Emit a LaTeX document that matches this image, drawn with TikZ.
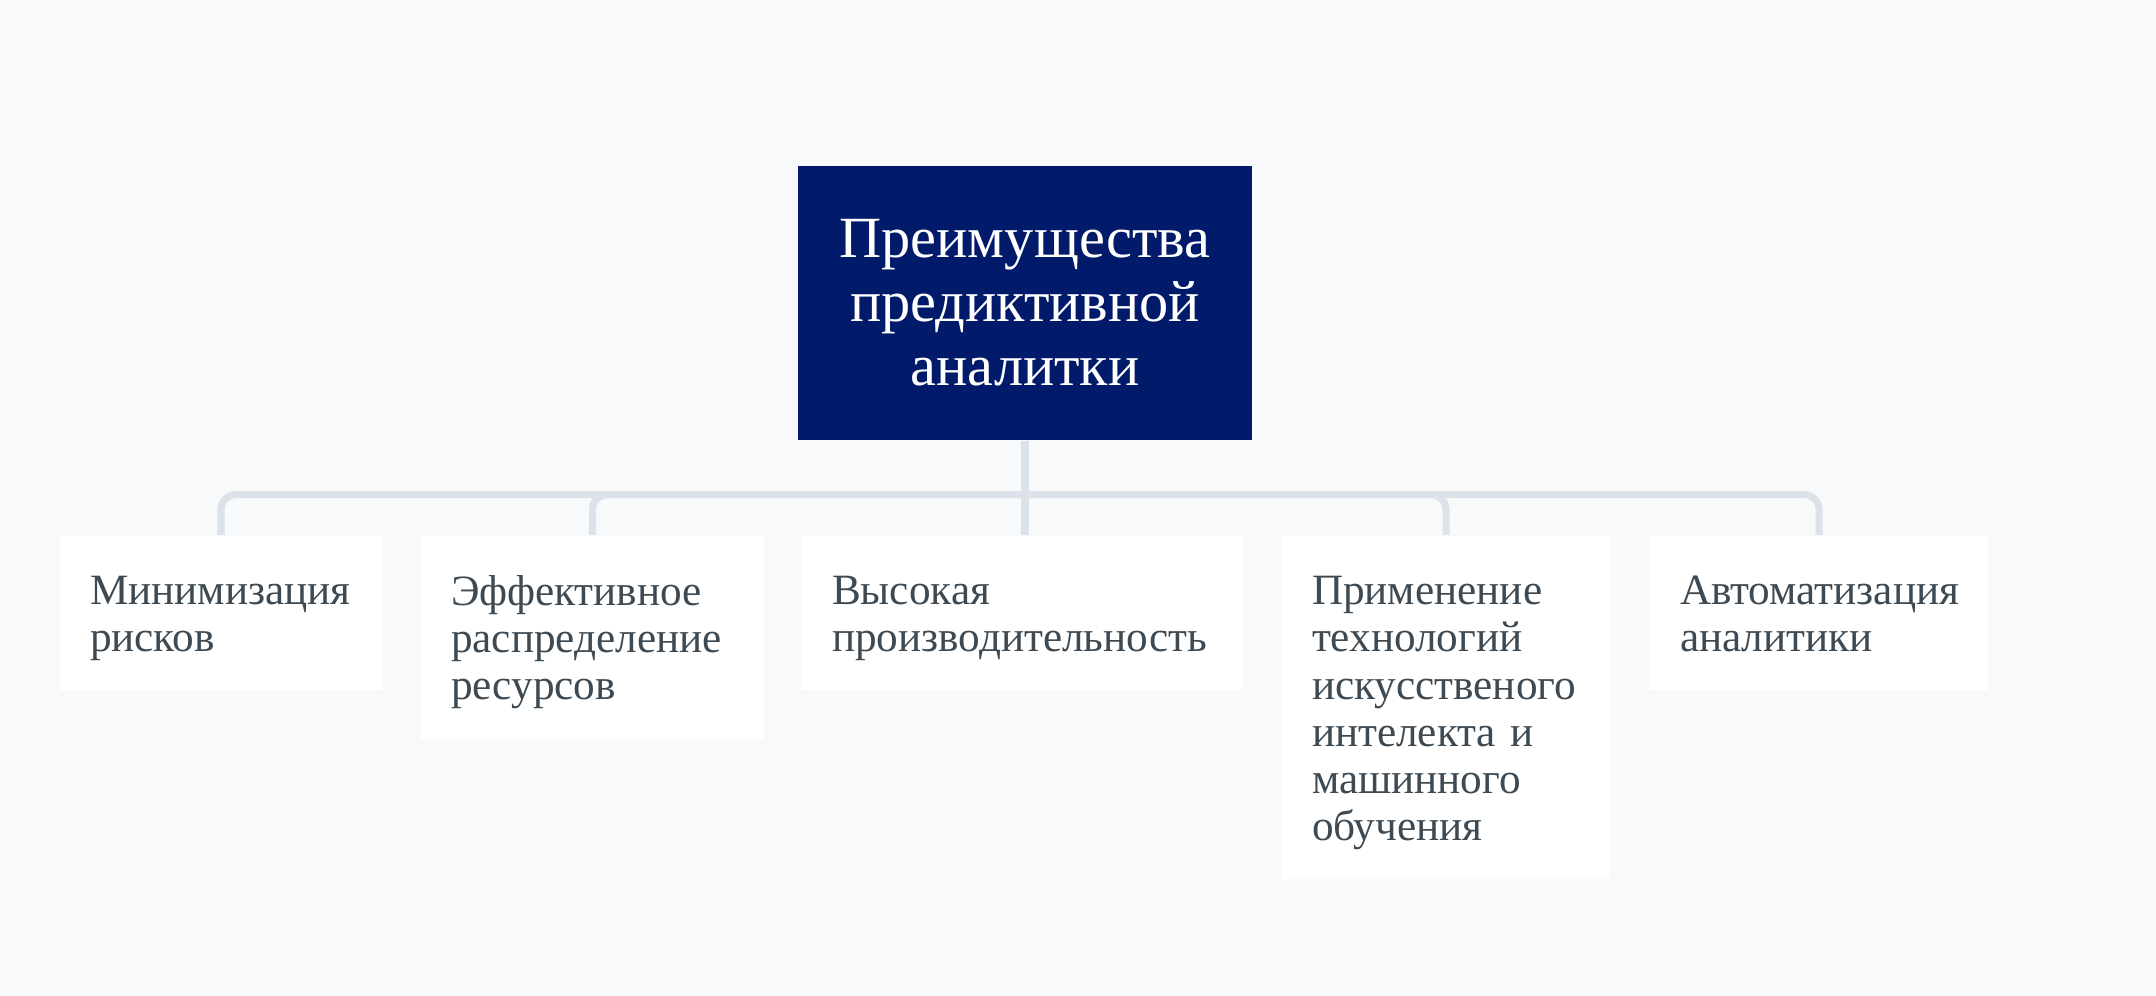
\documentclass[tikz,border=0pt]{standalone}
\usepackage{fontspec}
\setmainfont{Liberation Serif}
\usetikzlibrary{positioning}
\definecolor{pagebg}{HTML}{F8F9FB}
\definecolor{navy}{HTML}{011A6A}
\definecolor{linkgray}{HTML}{DCE2E9}
\definecolor{slate}{HTML}{3E4A53}
\hyphenpenalty=10000
\exhyphenpenalty=10000
\tikzset{
  root/.style={fill=navy,text=white,minimum width=4.54cm,minimum height=2.74cm,align=center,font=\fontsize{16.6}{18.2}\selectfont},
  leaf/.style={fill=white,text=slate,anchor=north,inner xsep=0.3cm,align=left,font=\fontsize{12.3}{13.4}\selectfont,
    text height=0.45cm,execute at begin node=\strut,execute at end node=\strut},
  link/.style={draw=linkgray,line width=2pt,rounded corners=0.15cm}
}

\begin{document}
\begin{tikzpicture}
\fill[pagebg] (0,0) rectangle (21.56,9.96);
\node[root] (root) at (10.25,6.93) {Преимущества\\предиктивной\\аналитки};
\node[leaf,text width=2.62cm,minimum height=1.54cm] (c1) at (2.21,4.61) {Минимизация\\рисков};
\node[leaf,text width=2.83cm,minimum height=2.03cm] (c2) at (5.925,4.61) {Эффективное\\распределение\\ресурсов};
\node[leaf,text width=3.81cm,minimum height=1.54cm] (c3) at (10.225,4.61) {Высокая\\производительность};
\node[leaf,text width=2.68cm,minimum height=3.43cm] (c4) at (14.46,4.61) {Применение\\технологий\\искусственого\\интелекта~и\\машинного\\обучения};
\node[leaf,text width=2.78cm,minimum height=1.54cm] (c5) at (18.19,4.61) {Автоматизация\\аналитики};
\coordinate (hub) at ([yshift=-0.54cm]root.south);
\draw[link] (root.south) -- (hub) -- (hub |- c3.north);
\foreach \c in {c1,c2,c4,c5}
  \draw[link] (hub) -| (\c.north);
\end{tikzpicture}
\end{document}
